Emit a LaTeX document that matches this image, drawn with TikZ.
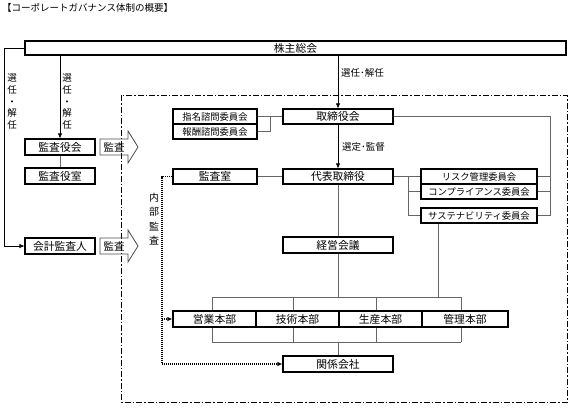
\documentclass[tikz,border=0pt]{standalone}
\usepackage{fontspec}
\setmainfont{Noto Sans CJK JP}
\usetikzlibrary{arrows.meta,calc}
\tikzset{
 box/.style={draw=black, line width=1.1pt, fill=white, minimum height=15pt, inner sep=0pt, font=\fontsize{10.8}{12}\selectfont},
 sbox/.style={box, font=\fontsize{9.3}{11}\selectfont},
 conn/.style={draw=black!60, line width=0.7pt},
 arr/.style={draw=black, line width=0.7pt, -{Latex[length=5pt,width=4.5pt]}},
 dotl/.style={line width=1.2pt, dash pattern=on 1pt off 1pt, black},
 dotarr/.style={dotl, -{Latex[length=5pt,width=4.5pt]}},
 lbl/.style={font=\fontsize{9.5}{11}\selectfont, inner sep=0pt},
 vlbl/.style={inner sep=0pt, align=center, font=\fontsize{9.5}{11.7}\selectfont},
 blockarrow/.style={draw=black!70, line width=0.8pt},
 frame/.style={line width=0.9pt, dash pattern=on 6pt off 2pt on 1.5pt off 2pt},
}
\begin{document}
\begin{tikzpicture}[x=1pt,y=-1pt]
\useasboundingbox (0,0) rectangle (571,416);
\node[lbl, anchor=west] (title) at (2,8) {【コーポレートガバナンス体制の概要】};
\draw[frame] (121,95) rectangle (567,402);
% boxes
\node[box, minimum width=541pt, minimum height=14pt] (kabu) at (295.5,48) {株主総会};
\node[box, minimum width=70pt, minimum height=16pt] (kyk) at (60,147) {監査役会};
\node[box, minimum width=70pt, minimum height=16pt] (kys) at (60,176) {監査役室};
\node[box, minimum width=70pt, minimum height=16pt] (kai) at (60,246) {会計監査人};
\node[sbox, minimum width=84pt] (shimei) at (215,116.5) {指名諮問委員会};
\node[sbox, minimum width=84pt] (hoshu) at (215,131.5) {報酬諮問委員会};
\node[box, minimum width=110pt] (tori) at (338,116.5) {取締役会};
\node[box, minimum width=84pt] (kss) at (215,176.5) {監査室};
\node[box, minimum width=110pt] (dai) at (338,176.5) {代表取締役};
\node[sbox, minimum width=116pt] (risk) at (479,176.5) {リスク管理委員会};
\node[sbox, minimum width=116pt] (comp) at (479,191.5) {コンプライアンス委員会};
\node[sbox, minimum width=116pt] (sus) at (479,215.5) {サステナビリティ委員会};
\node[box, minimum width=110pt, minimum height=16pt] (keiei) at (338,245) {経営会議};
\node[box, minimum width=83pt, minimum height=16pt] (eig) at (214.5,319) {営業本部};
\node[box, minimum width=83pt, minimum height=16pt] (gij) at (297.5,319) {技術本部};
\node[box, minimum width=83pt, minimum height=16pt] (sei) at (380.5,319) {生産本部};
\node[box, minimum width=86pt, minimum height=16pt] (kanri) at (465,319) {管理本部};
\node[box, minimum width=110pt, minimum height=16pt] (kan) at (338,364) {関係会社};
% block arrows
\node[font=\fontsize{10.5}{12}\selectfont, inner sep=0pt] (ka1) at (114,147) {監査};
\node[font=\fontsize{10.5}{12}\selectfont, inner sep=0pt] (ka2) at (114,246) {監査};
\foreach \k in {ka1,ka2}{
 \draw[blockarrow, shift={(\k.center)}] (-14,-8) -- (14,-8) -- (14,-16) -- (24,0) -- (14,16) -- (14,8) -- (-14,8) -- cycle;
}
% vertical labels
\node[vlbl] (v1) at (12,101.5) {選\\任\\・\\解\\任};
\node[vlbl] (v2) at (67,101.5) {選\\任\\・\\解\\任};
\node[vlbl, font=\fontsize{10}{14.3}\selectfont] (v3) at (154,219) {内\\部\\監\\査};
\node[lbl, anchor=west] (l1) at (341,73) {選任･解任};
\node[lbl, anchor=west] (l2) at (342,147) {選定･監督};
% connectors
\coordinate (lx) at (4,0);
\draw[arr] (kabu.west) -- (kabu.west -| lx) |- (kai.west);
\draw[arr] (kabu.south -| kyk.north) -- (kyk.north);
\draw[conn] (kyk.south) -- (kys.north);
\draw[arr] (kabu.south -| tori.north) -- (tori.north);
\draw[arr] (tori.south) -- (dai.north);
\coordinate (bk) at ($(shimei.east)!0.5!(tori.west)$);
\draw[conn] (shimei.east) -- (tori.west);
\draw[conn] (bk) |- (hoshu.east);
\draw[conn] (kss.east) -- (dai.west);
\coordinate (rx) at (550,0);
\draw[conn] (tori.east) -| (rx |- sus.east) -- (sus.east);
\draw[conn] (risk.east) -- (risk.east -| rx);
\draw[conn] (comp.east) -- (comp.east -| rx);
\coordinate (mx) at (408,0);
\draw[conn] (dai.east) -- (risk.west);
\draw[conn] (dai.east -| mx) |- (sus.west);
\draw[conn] (comp.west -| mx) -- (comp.west);
\draw[conn] (dai.south) -- (keiei.north);
\coordinate (t1) at (212,297); \coordinate (t2) at (293,297);
\coordinate (t3) at (376,297); \coordinate (t4) at (461,297);
\coordinate (b1) at (212,342); \coordinate (b2) at (293,342);
\coordinate (b3) at (376,342); \coordinate (b4) at (461,342);
\draw[conn] (t1) -- (t4);
\draw[conn] (b1) -- (b4);
\draw[conn] (keiei.south) -- (keiei.south |- t1);
\coordinate (sx) at ($(sus.south west)!0.15!(sus.south east)$);
\draw[conn] (sx) -- (sx |- t1);
\draw[conn] (t1) -- (t1 |- eig.north);  \draw[conn] (b1) -- (b1 |- eig.south);
\draw[conn] (t2) -- (t2 |- gij.north);  \draw[conn] (b2) -- (b2 |- gij.south);
\draw[conn] (t3) -- (t3 |- sei.north);  \draw[conn] (b3) -- (b3 |- sei.south);
\draw[conn] (t4) -- (t4 |- kanri.north); \draw[conn] (b4) -- (b4 |- kanri.south);
\draw[conn] (kan.north) -- (kan.north |- b1);
% internal audit dotted
\coordinate (dx) at (162,0);
\draw[dotarr] (kss.west) -| (dx |- kan.west) -- (kan.west);
\draw[dotarr] (dx |- eig.west) -- (eig.west);
\end{tikzpicture}
\end{document}
